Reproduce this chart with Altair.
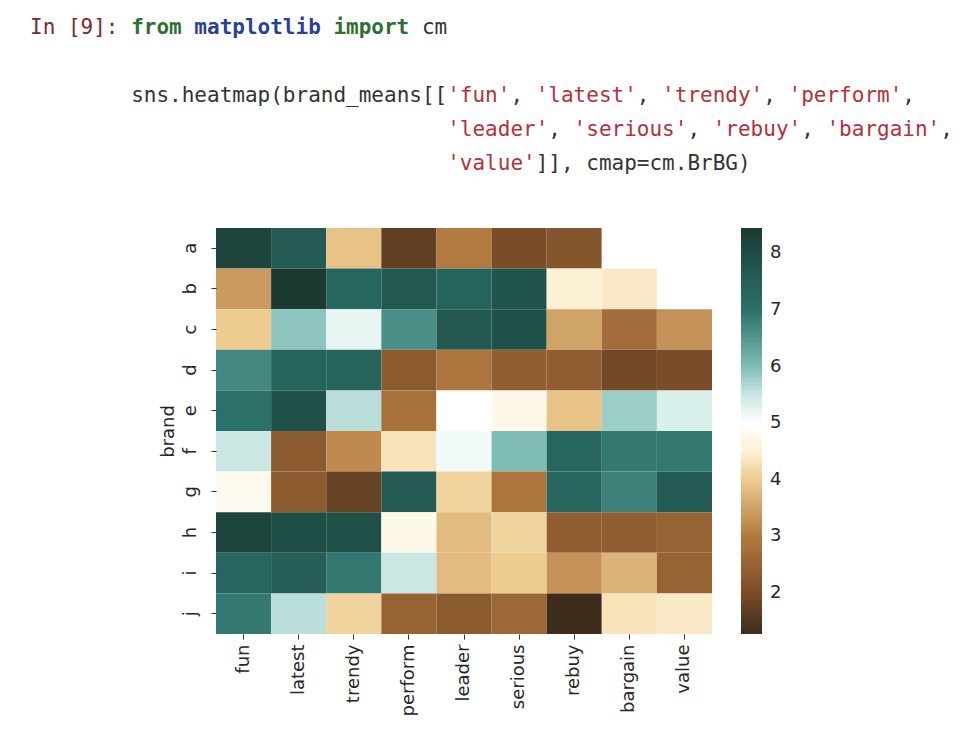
import altair as alt
import pandas as pd

# ---------------- data ----------------
brands = ["a", "b", "c", "d", "e", "f", "g", "h", "i", "j"]
attributes = ["fun", "latest", "trendy", "perform", "leader",
              "serious", "rebuy", "bargain", "value"]

fun     = [8.20, 3.40, 4.00, 6.70, 7.00, 5.50, 4.62, 8.20, 7.30, 6.90]
latest  = [7.60, 8.45, 5.90, 7.40, 7.90, 2.30, 2.30, 8.00, 7.50, 5.60]
trendy  = [3.90, 7.30, 5.30, 7.40, 5.60, 3.20, 1.80, 7.90, 6.90, 4.10]
perform = [1.70, 7.70, 6.60, 2.30, 2.80, 4.30, 7.60, 4.60, 5.50, 2.50]
leader  = [3.00, 7.40, 7.70, 2.90, 5.00, 5.20, 4.10, 3.80, 3.80, 2.30]
serious = [2.00, 7.80, 7.90, 2.40, 4.60, 6.00, 2.90, 4.10, 4.00, 2.60]
rebuy   = [2.20, 4.50, 3.50, 2.40, 3.90, 7.30, 7.30, 2.40, 3.30, 1.27]
bargain = [5.00, 4.40, 2.70, 1.90, 5.80, 6.90, 6.80, 2.40, 3.70, 4.30]
value   = [5.00, 5.00, 3.30, 2.00, 5.40, 6.90, 7.60, 2.50, 2.50, 4.40]

columns = [fun, latest, trendy, perform, leader, serious, rebuy, bargain, value]
colorbar_ticks = [2, 3, 4, 5, 6, 7, 8]

# code cell text: (text, style) tokens per line
code_lines = [
    [("In [9]: ", "prompt"), ("from", "kw"), (" ", "plain"), ("matplotlib", "mod"),
     (" ", "plain"), ("import", "kw"), (" cm", "plain")],
    [],
    [("        sns.heatmap(brand_means[[", "plain"), ("'fun'", "str"), (", ", "plain"),
     ("'latest'", "str"), (", ", "plain"), ("'trendy'", "str"), (", ", "plain"),
     ("'perform'", "str"), (",", "plain")],
    [("                                 ", "plain"), ("'leader'", "str"), (", ", "plain"),
     ("'serious'", "str"), (", ", "plain"), ("'rebuy'", "str"), (", ", "plain"),
     ("'bargain'", "str"), (",", "plain")],
    [("                                 ", "plain"), ("'value'", "str"),
     ("]], cmap=cm.BrBG)", "plain")],
]

rows = []
for attr, vals in zip(attributes, columns):
    for b, v in zip(brands, vals):
        rows.append({"brand": b, "attribute": attr, "mean": v})
df = pd.DataFrame(rows)

vmin = min(min(c) for c in columns)
vmax = max(max(c) for c in columns)

W, H = 496, 406

# ---------------- heatmap ----------------
stops = [vmin, 2, 3, 4, 4.5, 4.7, 5.1, 5.4, 6, 7, 8, vmax]
colors = ["#3d2c1c", "#7a4c28", "#b27a40", "#eecb90", "#fdf1d4", "#ffffff",
          "#ffffff", "#d9efec", "#7fbcb5", "#2b716a", "#1e4d45", "#1c3a32"]

heat = alt.Chart(df).mark_rect().encode(
    x=alt.X("attribute:N", sort=attributes,
            scale=alt.Scale(paddingInner=0, paddingOuter=0),
            axis=alt.Axis(title=None, labelAngle=270, labelAlign="right",
                          labelBaseline="middle", labelFont="DejaVu Sans",
                          labelFontSize=18, labelColor="#262626", domain=False,
                          tickSize=5, tickColor="#333333", labelPadding=5)),
    y=alt.Y("brand:N", sort=brands,
            scale=alt.Scale(paddingInner=0, paddingOuter=0),
            axis=alt.Axis(title="brand", labelAngle=270, labelAlign="center",
                          labelBaseline="alphabetic", labelFont="DejaVu Sans",
                          labelFontSize=18, labelColor="#262626", domain=False,
                          tickSize=5, tickColor="#333333", labelPadding=16,
                          titleFont="DejaVu Sans", titleFontSize=18,
                          titleFontWeight="normal", titleColor="#262626",
                          titleAngle=270, titleAlign="center",
                          titleBaseline="alphabetic", titleX=-43, titleY=H / 2)),
    color=alt.Color("mean:Q",
                    scale=alt.Scale(domain=stops, range=colors, interpolate="rgb"),
                    legend=alt.Legend(title=None, orient="none", legendX=525, legendY=0,
                                      direction="vertical", gradientLength=H,
                                      gradientThickness=21, gradientStrokeWidth=0,
                                      values=colorbar_ticks, labelFont="DejaVu Sans",
                                      labelFontSize=18, labelColor="#262626",
                                      labelOffset=8, padding=0)),
)

# ---------------- code text ----------------
styles = {
    "prompt": ("#7d2b2b", "normal"),
    "kw": ("#2f6e35", "bold"),
    "mod": ("#283f98", "bold"),
    "plain": ("#333333", "normal"),
    "str": ("#b5303a", "normal"),
}
CHAR_W = 0.602 * 21
X0, Y0, LINE_H = -186, -194, 34

layers = [heat]
for li, line in enumerate(code_lines):
    col = 0
    for txt, st in line:
        stripped = txt.lstrip(" ")
        lead = len(txt) - len(stripped)
        if stripped.strip():
            color, weight = styles[st]
            layers.append(
                alt.Chart().mark_text(align="left", baseline="alphabetic",
                                      font="DejaVu Sans Mono", fontSize=21,
                                      fontWeight=weight, color=color)
                .encode(x=alt.value(X0 + (col + lead) * CHAR_W),
                        y=alt.value(Y0 + li * LINE_H),
                        text=alt.value(stripped))
            )
        col += len(txt)

chart = alt.layer(*layers).properties(
    width=W, height=H,
    autosize=alt.AutoSizeParams(type="none"),
    padding={"left": 208, "top": 220, "right": 252, "bottom": 95},
).configure_view(strokeWidth=0)

chart.save("out.html", embed_options={"renderer": "svg", "actions": False})
